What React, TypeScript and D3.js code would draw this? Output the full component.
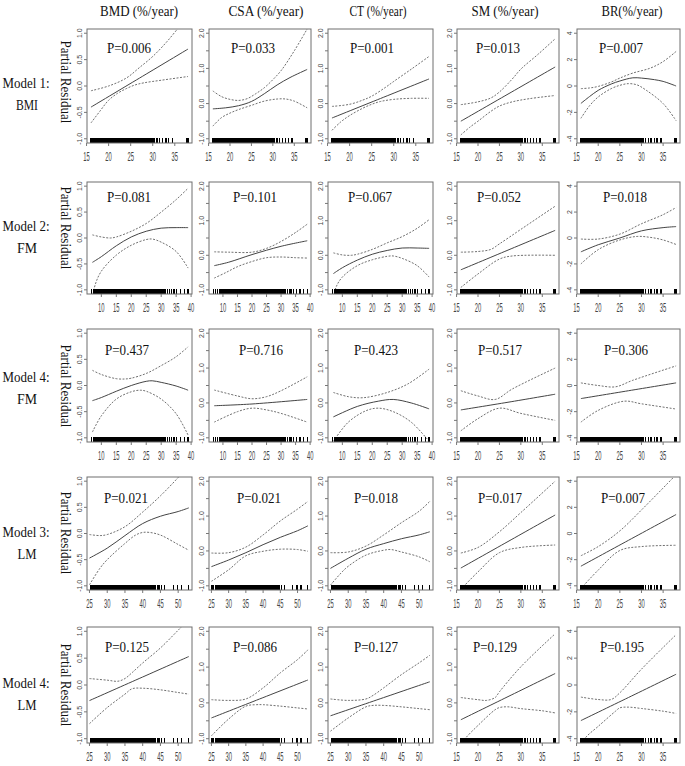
import React from 'react';
import * as d3 from 'd3';

type Pt = [number, number];

// ---------- text content ----------
const columns = ['BMD (%/year)', 'CSA (%/year)', 'CT (%/year)', 'SM (%/year)', 'BR(%/year)'];
const rowModels = ['Model 1:', 'Model 2:', 'Model 4:', 'Model 3:', 'Model 4:'];
const rowVars = ['BMI', 'FM', 'FM', 'LM', 'LM'];
const pValues = [
  ['P=0.006', 'P=0.033', 'P=0.001', 'P=0.013', 'P=0.007'],
  ['P=0.081', 'P=0.101', 'P=0.067', 'P=0.052', 'P=0.018'],
  ['P=0.437', 'P=0.716', 'P=0.423', 'P=0.517', 'P=0.306'],
  ['P=0.021', 'P=0.021', 'P=0.018', 'P=0.017', 'P=0.007'],
  ['P=0.125', 'P=0.086', 'P=0.127', 'P=0.129', 'P=0.195'],
];

// ---------- axes ----------
const xTicksBMI = [15, 20, 25, 30, 35];
const xTicksFM = [10, 15, 20, 25, 30, 35, 40];
const xTicksLM = [25, 30, 35, 40, 45, 50];
const xDomainBMI: [number, number] = [15.1, 38.9];
const xDomainFM: [number, number] = [5.2, 40.3];
const xDomainLM: [number, number] = [24.3, 53.9];

const yTicksBMD = [-1, -0.5, 0, 0.5, 1];
const yLabelsBMD = ['-1.0', '-0.5', '0.0', '0.5', '1.0'];
const yTicksMid = [-1, -0.5, 0, 0.5, 1, 1.5, 2];
const yLabelsMid = ['-1.0', '', '0.0', '', '1.0', '', '2.0'];
const yTicksBR = [-4, -2, 0, 2, 4];
const yLabelsBR = ['-4', '-2', '0', '2', '4'];
const yDomainBMD: [number, number] = [-1.08, 1.08];
const yDomainMid: [number, number] = [-1.12, 2.12];
const yDomainBR: [number, number] = [-4.32, 4.32];

// ---------- rug data ----------
const rugBMI = [16.0, 16.2, 16.3, 16.5, 16.6, 16.8, 17.0, 17.1, 17.3, 17.5, 17.6, 17.8, 18.0, 18.1, 18.3, 18.4, 18.6, 18.8, 18.9, 19.1, 19.3, 19.4, 19.6, 19.8, 19.9, 20.1, 20.3, 20.4, 20.6, 20.8, 20.9, 21.1, 21.2, 21.4, 21.6, 21.7, 21.9, 22.1, 22.2, 22.4, 22.6, 22.7, 22.9, 23.0, 23.2, 23.4, 23.5, 23.7, 23.9, 24.0, 24.2, 24.4, 24.5, 24.7, 24.8, 25.0, 25.2, 25.3, 25.5, 25.7, 25.8, 26.0, 26.2, 26.3, 26.5, 26.6, 26.8, 27.0, 27.1, 27.3, 27.5, 27.6, 27.8, 28.0, 28.2, 28.4, 28.7, 28.9, 29.2, 29.5, 29.8, 30.1, 30.4, 31.0, 31.6, 32.2, 33.0, 33.6, 34.5, 37.6, 38.0];
const rugFM = [6.8, 7.5, 8.2, 8.7, 9.0, 9.3, 9.6, 9.9, 10.2, 10.5, 10.8, 11.0, 11.3, 11.6, 11.9, 12.2, 12.5, 12.8, 13.1, 13.3, 13.6, 13.9, 14.2, 14.5, 14.8, 15.1, 15.4, 15.6, 15.9, 16.2, 16.5, 16.8, 17.1, 17.4, 17.7, 17.9, 18.2, 18.5, 18.8, 19.1, 19.4, 19.7, 20.0, 20.2, 20.5, 20.8, 21.1, 21.4, 21.7, 22.0, 22.3, 22.5, 22.8, 23.1, 23.4, 23.7, 24.0, 24.3, 24.6, 24.8, 25.1, 25.4, 25.7, 26.0, 26.3, 26.6, 26.9, 27.2, 27.6, 28.0, 28.3, 28.7, 29.1, 29.4, 29.8, 30.2, 30.6, 31.0, 31.5, 32.1, 32.8, 33.4, 34.3, 35.2, 36.5, 37.8, 39.0];
const rugLM = [25.2, 25.7, 26.1, 26.4, 26.7, 27.0, 27.3, 27.6, 27.9, 28.2, 28.4, 28.7, 29.0, 29.3, 29.6, 29.9, 30.2, 30.4, 30.7, 31.0, 31.3, 31.6, 31.9, 32.2, 32.4, 32.7, 33.0, 33.3, 33.6, 33.9, 34.2, 34.4, 34.7, 35.0, 35.3, 35.6, 35.9, 36.2, 36.4, 36.7, 37.0, 37.3, 37.6, 37.9, 38.2, 38.4, 38.7, 39.0, 39.3, 39.6, 39.9, 40.2, 40.4, 40.7, 41.0, 41.3, 41.6, 41.9, 42.2, 42.5, 42.9, 43.3, 43.7, 44.1, 44.6, 45.3, 46.2, 48.6, 49.8, 51.0, 52.9];

// ---------- curves: row 1 (BMI) ----------
const fitR1BMD: Pt[] = [[16, -0.40], [27, 0.15], [38, 0.70]];
const upR1BMD: Pt[] = [[16, -0.09], [20, 0.0], [24, 0.15], [27, 0.35], [30, 0.56], [33, 0.82], [36, 1.12], [38, 1.32]];
const loR1BMD: Pt[] = [[16, -0.70], [18, -0.48], [20, -0.27], [22, -0.14], [24, -0.05], [26, 0.02], [28, 0.06], [32, 0.11], [38, 0.18]];
const fitR1CSA: Pt[] = [[16, -0.15], [19, -0.12], [22, -0.06], [25, 0.06], [28, 0.28], [31, 0.53], [34, 0.74], [38, 0.97]];
const upR1CSA: Pt[] = [[16, 0.36], [18, 0.2], [20, 0.12], [22, 0.09], [24, 0.14], [26, 0.28], [28, 0.45], [30, 0.68], [32, 0.95], [35, 1.5], [38, 2.12]];
const loR1CSA: Pt[] = [[16, -0.64], [18, -0.4], [20, -0.27], [22, -0.17], [25, -0.05], [28, 0.07], [31, 0.13], [33, 0.13], [35, 0.07], [38, -0.12]];
const fitR1CT: Pt[] = [[16, -0.41], [27, 0.145], [38, 0.70]];
const upR1CT: Pt[] = [[16, -0.08], [20, -0.02], [23, 0.1], [25, 0.21], [28, 0.45], [30, 0.63], [34, 0.98], [38, 1.34]];
const loR1CT: Pt[] = [[16, -0.76], [18, -0.52], [20, -0.34], [23, -0.13], [25, -0.02], [27, 0.06], [30, 0.12], [34, 0.15], [38, 0.15]];
const fitR1SM: Pt[] = [[16, -0.5], [27, 0.27], [38, 1.04]];
const upR1SM: Pt[] = [[16, -0.03], [20, 0.05], [23, 0.16], [25, 0.33], [28, 0.7], [30, 0.98], [34, 1.4], [38, 1.84]];
const loR1SM: Pt[] = [[16, -0.89], [18, -0.68], [20, -0.5], [23, -0.22], [25, -0.07], [28, 0.05], [32, 0.14], [38, 0.23]];
const fitR1BR: Pt[] = [[16, -1.32], [18, -0.8], [20, -0.33], [23, 0.15], [25, 0.38], [28, 0.62], [30, 0.6], [33, 0.48], [35, 0.35], [38, 0.0]];
const upR1BR: Pt[] = [[16, -0.2], [18, -0.15], [20, -0.03], [23, 0.3], [25, 0.6], [28, 0.98], [32, 1.35], [35, 1.85], [38, 2.62]];
const loR1BR: Pt[] = [[16, -2.45], [18, -1.5], [20, -0.83], [23, -0.2], [25, 0.05], [27, 0.18], [29, 0.08], [31, -0.3], [35, -1.33], [38, -2.63]];

// ---------- row 2 (Model 2: FM) ----------
const fitR2BMD: Pt[] = [[7, -0.47], [10, -0.36], [15, -0.15], [20, 0.02], [25, 0.13], [30, 0.19], [35, 0.2], [39, 0.2]];
const upR2BMD: Pt[] = [[7, 0.06], [10, 0.02], [13, 0.0], [15, 0.02], [20, 0.13], [25, 0.28], [30, 0.5], [35, 0.74], [39, 0.96]];
const loR2BMD: Pt[] = [[7, -1.15], [8, -0.89], [10, -0.64], [15, -0.33], [20, -0.14], [25, -0.03], [27, -0.02], [30, -0.08], [35, -0.26], [39, -0.58]];
const fitR2CSA: Pt[] = [[7, -0.3], [12, -0.2], [20, 0.02], [30, 0.26], [39, 0.42]];
const upR2CSA: Pt[] = [[7, 0.1], [12, 0.09], [20, 0.09], [25, 0.2], [30, 0.4], [35, 0.66], [39, 0.9]];
const loR2CSA: Pt[] = [[7, -0.66], [11, -0.5], [15, -0.33], [20, -0.18], [25, -0.07], [30, -0.05], [35, -0.07], [39, -0.08]];
const fitR2CT: Pt[] = [[7, -0.53], [10, -0.36], [15, -0.14], [20, 0.03], [25, 0.14], [30, 0.21], [35, 0.21], [39, 0.2]];
const upR2CT: Pt[] = [[7, 0.07], [10, 0.01], [13, 0.0], [15, 0.03], [20, 0.17], [25, 0.36], [30, 0.54], [35, 0.78], [39, 1.03]];
const loR2CT: Pt[] = [[7, -1.2], [8, -0.9], [10, -0.63], [15, -0.3], [20, -0.13], [25, -0.03], [27, -0.02], [30, -0.09], [35, -0.3], [39, -0.63]];
const fitR2SM: Pt[] = [[16, -0.42], [27, 0.15], [38, 0.72]];
const upR2SM: Pt[] = [[16, 0.09], [20, 0.11], [23, 0.17], [25, 0.33], [30, 0.75], [38, 1.42]];
const loR2SM: Pt[] = [[16, -0.93], [20, -0.54], [25, -0.11], [28, -0.02], [38, 0.0]];
const fitR2BR: Pt[] = [[16, -1.07], [20, -0.52], [25, 0.0], [30, 0.55], [35, 0.8], [38, 0.88]];
const upR2BR: Pt[] = [[16, -0.08], [20, -0.08], [25, 0.3], [30, 1.1], [35, 1.8], [38, 2.35]];
const loR2BR: Pt[] = [[16, -2.0], [20, -0.9], [25, -0.15], [29, 0.12], [32, 0.05], [35, -0.15], [38, -0.5]];

// ---------- row 3 (Model 4: FM) ----------
const fitR3BMD: Pt[] = [[7, -0.29], [10, -0.23], [15, -0.11], [20, 0.0], [25, 0.08], [27, 0.09], [30, 0.06], [35, -0.01], [39, -0.09]];
const upR3BMD: Pt[] = [[7, 0.29], [10, 0.21], [15, 0.13], [18, 0.125], [20, 0.14], [25, 0.23], [30, 0.38], [35, 0.55], [39, 0.74]];
const loR3BMD: Pt[] = [[7, -0.89], [10, -0.58], [15, -0.26], [20, -0.12], [23, -0.09], [25, -0.11], [30, -0.26], [35, -0.54], [39, -0.95]];
const fitR3CSA: Pt[] = [[7, -0.08], [20, -0.03], [39, 0.1]];
const upR3CSA: Pt[] = [[7, 0.37], [15, 0.2], [20, 0.12], [25, 0.18], [30, 0.35], [39, 0.75]];
const loR3CSA: Pt[] = [[7, -0.55], [15, -0.25], [20, -0.15], [25, -0.2], [30, -0.3], [39, -0.55]];
const fitR3CT: Pt[] = [[7, -0.4], [15, -0.1], [22, 0.05], [27, 0.1], [33, 0.0], [39, -0.17]];
const upR3CT: Pt[] = [[7, 0.3], [12, 0.18], [17, 0.15], [25, 0.3], [32, 0.55], [39, 0.97]];
const loR3CT: Pt[] = [[7, -1.1], [12, -0.55], [18, -0.22], [22, -0.15], [27, -0.25], [33, -0.55], [39, -1.1]];
const fitR3SM: Pt[] = [[16, -0.2], [27, 0.02], [38, 0.25]];
const upR3SM: Pt[] = [[16, 0.35], [20, 0.2], [24, 0.1], [28, 0.4], [38, 1.0]];
const loR3SM: Pt[] = [[16, -0.8], [20, -0.45], [25, -0.15], [30, -0.3], [38, -0.5]];
const fitR3BR: Pt[] = [[16, -1.0], [27, -0.4], [38, 0.2]];
const upR3BR: Pt[] = [[16, 0.2], [20, 0.0], [24, -0.1], [28, 0.4], [38, 1.5]];
const loR3BR: Pt[] = [[16, -2.8], [20, -1.9], [26, -1.2], [30, -1.4], [38, -1.8]];

// ---------- row 4 (Model 3: LM) ----------
const fitR4BMD: Pt[] = [[25, -0.47], [30, -0.28], [35, -0.04], [40, 0.19], [45, 0.33], [50, 0.42], [53, 0.49]];
const upR4BMD: Pt[] = [[25, -0.02], [28, -0.04], [30, -0.02], [35, 0.13], [40, 0.41], [45, 0.72], [50, 1.07], [53, 1.3]];
const loR4BMD: Pt[] = [[25, -0.98], [28, -0.66], [30, -0.5], [35, -0.19], [38, -0.03], [40, 0.02], [42, 0.02], [45, -0.03], [50, -0.21], [53, -0.32]];
const fitR4CSA: Pt[] = [[25, -0.45], [30, -0.26], [35, -0.05], [40, 0.18], [45, 0.39], [50, 0.58], [53, 0.72]];
const upR4CSA: Pt[] = [[25, -0.06], [30, -0.05], [35, 0.11], [40, 0.46], [45, 0.86], [50, 1.2], [53, 1.42]];
const loR4CSA: Pt[] = [[25, -0.87], [30, -0.54], [35, -0.14], [40, -0.01], [45, 0.05], [50, 0.04], [53, -0.01]];
const fitR4CT: Pt[] = [[25, -0.5], [30, -0.21], [35, 0.05], [40, 0.21], [45, 0.35], [50, 0.46], [53, 0.55]];
const upR4CT: Pt[] = [[25, -0.05], [30, -0.03], [35, 0.14], [40, 0.46], [45, 0.81], [50, 1.14], [53, 1.42]];
const loR4CT: Pt[] = [[25, -0.98], [28, -0.63], [30, -0.44], [35, -0.12], [40, 0.02], [42, 0.04], [45, -0.03], [50, -0.17], [53, -0.31]];
const fitR4SM: Pt[] = [[16, -0.49], [27, 0.27], [38, 1.03]];
const upR4SM: Pt[] = [[16, -0.06], [20, 0.1], [25, 0.55], [30, 1.1], [38, 2.0]];
const loR4SM: Pt[] = [[16, -1.1], [20, -0.6], [25, -0.05], [30, 0.1], [38, 0.17]];
const fitR4BR: Pt[] = [[16, -2.5], [27, -0.52], [38, 1.45]];
const upR4BR: Pt[] = [[16, -1.7], [20, -1.0], [25, 0.2], [30, 1.8], [38, 4.5]];
const loR4BR: Pt[] = [[16, -4.2], [20, -2.8], [25, -1.3], [30, -1.0], [38, -0.9]];

// ---------- row 5 (Model 4: LM) ----------
const fitR5BMD: Pt[] = [[25, -0.29], [39, 0.12], [53, 0.53]];
const upR5BMD: Pt[] = [[25, 0.12], [30, 0.09], [33, 0.07], [35, 0.12], [37, 0.23], [40, 0.41], [45, 0.69], [50, 1.02], [53, 1.22]];
const loR5BMD: Pt[] = [[25, -0.72], [30, -0.42], [35, -0.17], [37, -0.07], [40, -0.06], [45, -0.09], [50, -0.14], [53, -0.17]];
const fitR5CSA: Pt[] = [[25, -0.42], [39, 0.11], [53, 0.64]];
const upR5CSA: Pt[] = [[25, 0.09], [30, 0.07], [35, 0.11], [40, 0.42], [45, 0.84], [50, 1.21], [53, 1.48]];
const loR5CSA: Pt[] = [[25, -0.92], [30, -0.45], [35, -0.09], [38, -0.05], [40, -0.05], [45, -0.09], [50, -0.14], [53, -0.17]];
const fitR5CT: Pt[] = [[25, -0.36], [39, 0.115], [53, 0.59]];
const upR5CT: Pt[] = [[25, 0.11], [30, 0.07], [35, 0.11], [37, 0.21], [40, 0.42], [45, 0.79], [50, 1.12], [53, 1.33]];
const loR5CT: Pt[] = [[25, -0.79], [30, -0.42], [35, -0.11], [37, -0.07], [40, -0.07], [45, -0.11], [50, -0.16], [53, -0.19]];
const fitR5SM: Pt[] = [[16, -0.47], [27, 0.175], [38, 0.82]];
const upR5SM: Pt[] = [[16, 0.15], [20, 0.09], [22, 0.07], [24, 0.15], [25, 0.31], [30, 1.01], [38, 1.93]];
const loR5SM: Pt[] = [[16, -1.2], [17, -1.0], [20, -0.63], [24, -0.19], [25, -0.13], [27, -0.11], [30, -0.16], [35, -0.22], [38, -0.28]];
const fitR5BR: Pt[] = [[16, -2.65], [27, -0.93], [38, 0.8]];
const upR5BR: Pt[] = [[16, -0.9], [20, -1.08], [23, -1.08], [25, -0.58], [30, 1.18], [38, 3.75]];
const loR5BR: Pt[] = [[16, -4.6], [17, -3.95], [20, -3.08], [24, -1.95], [25, -1.7], [27, -1.65], [30, -1.75], [35, -1.95], [38, -2.12]];

const curves: Pt[][][][] = [
  [[fitR1BMD, upR1BMD, loR1BMD], [fitR1CSA, upR1CSA, loR1CSA], [fitR1CT, upR1CT, loR1CT], [fitR1SM, upR1SM, loR1SM], [fitR1BR, upR1BR, loR1BR]],
  [[fitR2BMD, upR2BMD, loR2BMD], [fitR2CSA, upR2CSA, loR2CSA], [fitR2CT, upR2CT, loR2CT], [fitR2SM, upR2SM, loR2SM], [fitR2BR, upR2BR, loR2BR]],
  [[fitR3BMD, upR3BMD, loR3BMD], [fitR3CSA, upR3CSA, loR3CSA], [fitR3CT, upR3CT, loR3CT], [fitR3SM, upR3SM, loR3SM], [fitR3BR, upR3BR, loR3BR]],
  [[fitR4BMD, upR4BMD, loR4BMD], [fitR4CSA, upR4CSA, loR4CSA], [fitR4CT, upR4CT, loR4CT], [fitR4SM, upR4SM, loR4SM], [fitR4BR, upR4BR, loR4BR]],
  [[fitR5BMD, upR5BMD, loR5BMD], [fitR5CSA, upR5CSA, loR5CSA], [fitR5CT, upR5CT, loR5CT], [fitR5SM, upR5SM, loR5SM], [fitR5BR, upR5BR, loR5BR]],
];

// ---------- layout ----------
const W = 685, H = 766;
const colLeft = [87, 209, 328, 457, 577];
const colWidth = [105, 102, 105, 102, 103];
const rowTop = [29, 182, 329, 477, 627];
const rowHeight = [114, 112, 113, 113, 116];
const headerX = [139, 266, 378, 505, 632];
const headerW = [78, 75, 57, 67, 61];
const modelBase = [88, 231, 382, 537, 688];
const varW = [22, 20, 20, 19, 19];
const prCenter = [82, 228, 386, 533, 685];
const pBaseOffset = [24, 20, 26, 26, 25];
const pCenterX = [
  [129, 253, 372, 498, 621],
  [129, 255, 370, 499, 625],
  [127, 261, 376, 500, 626],
  [126, 259, 376, 500, 623],
  [127, 255, 376, 495, 622],
];
const SERIF = '"Liberation Serif", "Times New Roman", serif';
const SANS = '"Liberation Sans", Arial, sans-serif';

function xInfo(r: number, c: number) {
  if (c >= 3 || r === 0) return { dom: xDomainBMI, ticks: xTicksBMI, rug: rugBMI };
  if (r <= 2) return { dom: xDomainFM, ticks: xTicksFM, rug: rugFM };
  return { dom: xDomainLM, ticks: xTicksLM, rug: rugLM };
}
function yInfo(c: number) {
  if (c === 0) return { dom: yDomainBMD, ticks: yTicksBMD, labels: yLabelsBMD };
  if (c === 4) return { dom: yDomainBR, ticks: yTicksBR, labels: yLabelsBR };
  return { dom: yDomainMid, ticks: yTicksMid, labels: yLabelsMid };
}

function Panel({ r, c }: { r: number; c: number }) {
  const L = colLeft[c], T = rowTop[r], w = colWidth[c], h = rowHeight[r];
  const xi = xInfo(r, c), yi = yInfo(c);
  const x = d3.scaleLinear().domain(xi.dom).range([L, L + w]);
  const y = d3.scaleLinear().domain(yi.dom).range([T + h, T]);
  const line = d3.line<Pt>().x(d => x(d[0])).y(d => y(d[1])).curve(d3.curveCatmullRom.alpha(0.5));
  const [fit, up, lo] = curves[r][c];
  const id = `clip-${r}-${c}`;
  const B = T + h;
  return (
    <g>
      <defs>
        <clipPath id={id}><rect x={L} y={T} width={w} height={h} /></clipPath>
      </defs>
      <g clipPath={`url(#${id})`}>
        <path d={line(up) || ''} fill="none" stroke="#707070" strokeWidth={1} strokeDasharray="2,1.5" />
        <path d={line(lo) || ''} fill="none" stroke="#707070" strokeWidth={1} strokeDasharray="2,1.5" />
        <path d={line(fit) || ''} fill="none" stroke="#444" strokeWidth={1} />
        {xi.rug.map((v, i) => (
          <line key={i} x1={x(v)} x2={x(v)} y1={B - 0.5} y2={B - 5.5} stroke="#000" strokeWidth={1.3}
            shapeRendering="crispEdges" />
        ))}
      </g>
      <rect x={L} y={T} width={w} height={h} fill="none" stroke="#6e6e6e" strokeWidth={1} />
      {xi.ticks.map(t => (
        <g key={t}>
          <line x1={x(t)} x2={x(t)} y1={B} y2={B + 3} stroke="#777" strokeWidth={1} />
          <text x={0} y={0} transform={`translate(${x(t)},${B + 18})`} textAnchor="middle" fontSize={12}
            fontFamily={SANS} fill="#444" textLength={6.5} lengthAdjust="spacingAndGlyphs">{t}</text>
        </g>
      ))}
      {yi.ticks.map((t, i) => (
        <g key={t}>
          <line x1={L - 3} x2={L} y1={y(t)} y2={y(t)} stroke="#777" strokeWidth={1} />
          {yi.labels[i] ? (
            <text transform={`translate(${L - 5.5},${y(t)}) rotate(-90)`} textAnchor="middle" fontSize={7}
              fontFamily={SANS} fill="#444">{yi.labels[i]}</text>
          ) : null}
        </g>
      ))}
      <text transform={`translate(${pCenterX[r][c]},${T + pBaseOffset[r]})`} textAnchor="middle" fontSize={15}
        fontFamily={SERIF} fill="#111" textLength={44} lengthAdjust="spacingAndGlyphs">{pValues[r][c]}</text>
    </g>
  );
}

export default function App() {
  const rows = [0, 1, 2, 3, 4];
  const cols = [0, 1, 2, 3, 4];
  return (
    <svg width={W} height={H} style={{ position: 'absolute', left: 0, top: 0, background: '#fff' }}>
      <rect x={0} y={0} width={W} height={H} fill="#fff" />
      {columns.map((t, i) => (
        <text key={t} x={0} y={0} transform={`translate(${headerX[i]},16)`} textAnchor="middle" fontSize={15}
          fontFamily={SERIF} fill="#111" textLength={headerW[i]} lengthAdjust="spacingAndGlyphs">{t}</text>
      ))}
      {rows.map(r => (
        <g key={r}>
          <text transform={`translate(26,${modelBase[r]})`} textAnchor="middle" fontSize={15} fontFamily={SERIF}
            fill="#111" textLength={47} lengthAdjust="spacingAndGlyphs">{rowModels[r]}</text>
          <text transform={`translate(27,${modelBase[r] + 22})`} textAnchor="middle" fontSize={15} fontFamily={SERIF}
            fill="#111" textLength={varW[r]} lengthAdjust="spacingAndGlyphs">{rowVars[r]}</text>
          <text transform={`translate(61,${prCenter[r]}) rotate(90)`} textAnchor="middle" fontSize={15} fontFamily={SERIF}
            fill="#111" textLength={83} lengthAdjust="spacingAndGlyphs">Partial Residual</text>
          {cols.map(c => <Panel key={c} r={r} c={c} />)}
        </g>
      ))}
    </svg>
  );
}
